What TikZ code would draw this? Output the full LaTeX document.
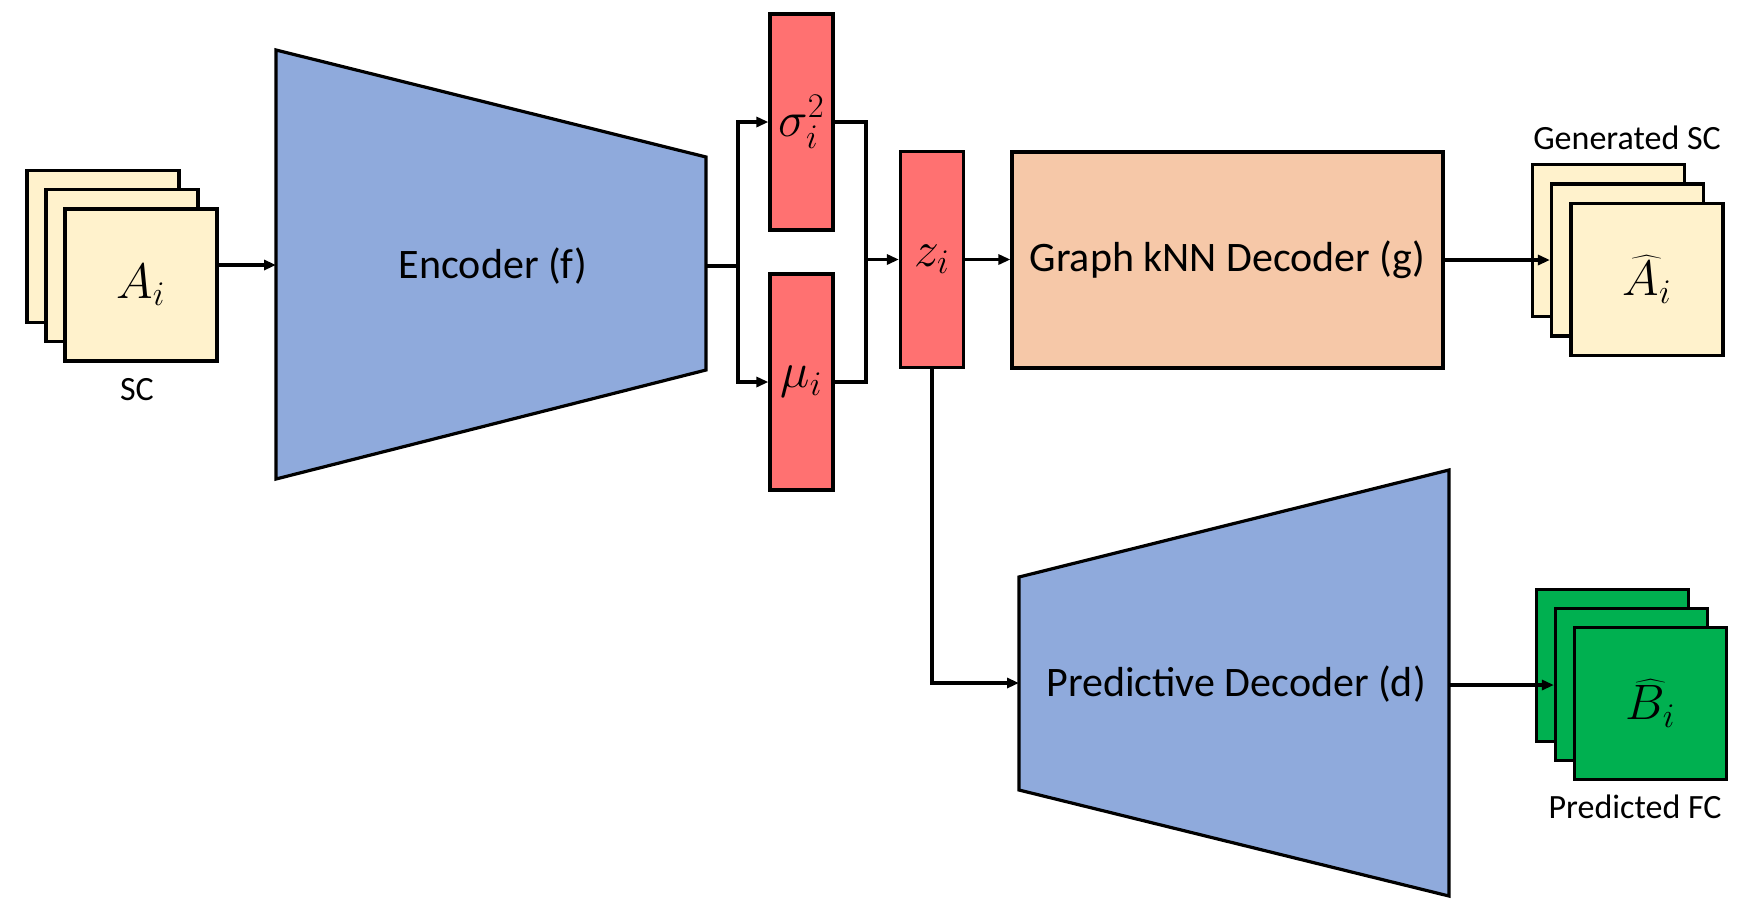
\documentclass[tikz,border=0pt]{standalone}
\usepackage{fontspec}
\setmainfont{Carlito}
\usetikzlibrary{arrows.meta}
\definecolor{encblue}{HTML}{8FAADC}
\definecolor{redc}{HTML}{FF7171}
\definecolor{peach}{HTML}{F6C8A8}
\definecolor{cream}{HTML}{FFF2CC}
\definecolor{fcgreen}{HTML}{00B050}
\begin{document}
\begin{tikzpicture}[x=0.5pt,y=-0.5pt,line width=1.6pt,
  sq/.style={draw,line width=1.6pt,minimum width=76pt,minimum height=76pt,inner sep=0pt},
  creamsq/.style={sq,fill=cream},
  greensq/.style={sq,fill=fcgreen},
  redbox/.style={draw,fill=redc,minimum width=31.5pt,minimum height=108pt,inner sep=0pt},
  bigtxt/.style={font=\fontsize{21}{25}\selectfont},
  smalltxt/.style={font=\fontsize{17}{20}\selectfont},
  mathtxt/.style={font=\fontsize{23}{27}\selectfont},
  arr/.style={-{Triangle[length=6pt,width=5pt]}},
  trap/.style={draw,fill=encblue,line join=miter}]
\useasboundingbox (0,0) rectangle (1754,912);

% input stack
\node[creamsq] (inB) at (103,246.5) {};
\node[creamsq] (inM) at (122,265.5) {};
\node[creamsq,mathtxt] (inF) at (141,285) {$A_i$};
\node[smalltxt] (scl) at (137,390) {SC};

% encoder
\coordinate (encTL) at (276,50);
\coordinate (encTR) at (706,157);
\coordinate (encBR) at (706,370);
\coordinate (encBL) at (276,479);
\coordinate (encW) at (276,265);
\coordinate (encE) at (706,266);
\draw[trap] (encTL) -- (encTR) -- (encBR) -- (encBL) -- cycle;
\node[bigtxt] (encT) at (493,266) {Encoder (f)};

% latent boxes
\node[redbox,mathtxt] (sig) at (801.5,122) {$\sigma_i^2$};
\node[redbox,mathtxt] (mu) at (801.5,382) {$\mu_i$};
\node[redbox,mathtxt] (z) at (932,259.5) {$z_i$};
\coordinate (br) at (738,266);
\coordinate (mg) at (866,259.5);

% graph decoder
\node[draw,fill=peach,minimum width=215.5pt,minimum height=108pt,inner sep=0pt,bigtxt] (graph) at (1227.5,260) {Graph kNN Decoder (g)};

% generated stack
\node[creamsq] (genB) at (1608.5,240.5) {};
\node[creamsq] (genM) at (1627.5,260) {};
\node[creamsq,mathtxt] (genF) at (1647,279.5) {$\widehat{A_i}$};
\node[smalltxt] (genl) at (1627,138) {Generated SC};

% predictive decoder
\coordinate (pTL) at (1019,577);
\coordinate (pTR) at (1449,470);
\coordinate (pBR) at (1449,896);
\coordinate (pBL) at (1019,790);
\coordinate (pW) at (1019,683);
\coordinate (pE) at (1449,685);
\draw[trap] (pTL) -- (pTR) -- (pBR) -- (pBL) -- cycle;
\node[bigtxt] (predT) at (1236,684) {Predictive Decoder (d)};

% FC stack
\node[greensq] (fcB) at (1612.5,665.5) {};
\node[greensq] (fcM) at (1631.5,684.5) {};
\node[greensq,mathtxt] (fcF) at (1650.5,703.5) {$\widehat{B_i}$};
\node[smalltxt] (fcl) at (1635,807) {Predicted FC};

% connectors
\draw[arr] (inF.east |- encW) -- (encW);
\draw (encE) -- (br);
\draw[arr] (br) |- (sig.west);
\draw[arr] (br) |- (mu.west);
\draw (sig.east) -| (mg);
\draw (mu.east) -| (mg);
\draw[arr] (mg) -- (z.west);
\draw[arr] (z.east) -- (z.east -| graph.west);
\draw[arr] (graph.east) -- (graph.east -| genM.west);
\draw[arr] (z.south) |- (pW);
\draw[arr] (pE) -- (pE -| fcM.west);
\end{tikzpicture}
\end{document}
